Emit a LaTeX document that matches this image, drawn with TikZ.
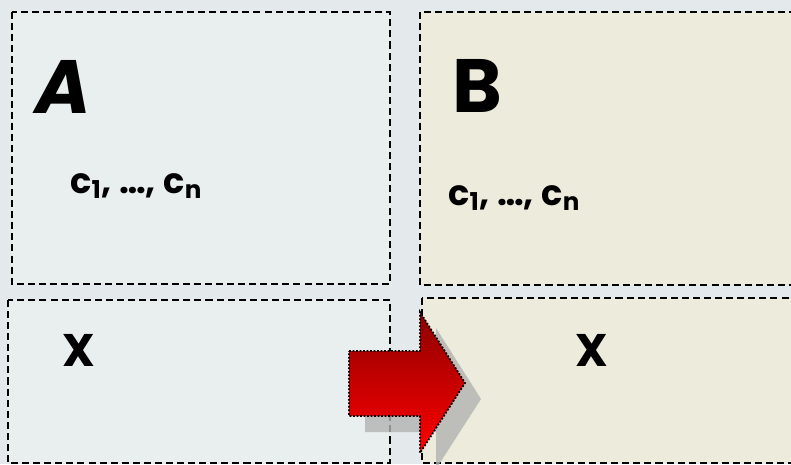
\documentclass[tikz,border=0pt]{standalone}
\usepackage{fontspec}
\setmainfont{Poppins}
\definecolor{paper}{HTML}{E4EAEB}
\definecolor{boxa}{HTML}{E9EEEF}
\definecolor{boxb}{HTML}{ECEBDC}
\tikzset{
  frame/.style={draw=black,dash pattern=on 4pt off 2.3pt,line width=1.1pt},
  big/.style={inner sep=0pt,anchor=base west,font=\fontsize{43}{43}\selectfont\bfseries},
  vals/.style={inner sep=0pt,anchor=base west,font=\fontsize{20}{20}\selectfont\bfseries},
  var/.style={inner sep=0pt,anchor=base west,font=\fontsize{26}{26}\selectfont\bfseries}
}
\begin{document}
\begin{tikzpicture}[x=0.02cm,y=-0.02cm]
  \fill[paper] (0,0) rectangle (791,464);
  \useasboundingbox (0,0) rectangle (791,464);
  % boxes
  \coordinate (A1) at (12,12); \coordinate (A2) at (390,284);
  \coordinate (A3) at (8,300); \coordinate (A4) at (390,463);
  \coordinate (B1) at (420,12); \coordinate (B2) at (800,285);
  \coordinate (B3) at (422,298); \coordinate (B4) at (800,463);
  \filldraw[frame,fill=boxa] (A1) rectangle (A2);
  \filldraw[frame,fill=boxa] (A3) rectangle (A4);
  \filldraw[frame,fill=boxb] (B1) rectangle (B2);
  \filldraw[frame,fill=boxb] (B3) rectangle (B4);
  % texts
  \node[big,font=\fontsize{43}{43}\selectfont\bfseries\itshape] (nameA) at (35,113) {A};
  \node[big] (nameB) at (452,112) {B};
  \node[vals] (valsA) at (70,193) {c\textsubscript{1}, …, c\textsubscript{n}};
  \node[vals] (valsB) at (448,205) {c\textsubscript{1}, …, c\textsubscript{n}};
  \node[var] (varA) at (62,366) {X};
  \node[var] (varB) at (575,366) {X};
  % arrow
  \coordinate (P1) at (349,351); \coordinate (P2) at (420,351);
  \coordinate (P3) at (420,312); \coordinate (P4) at (465,383);
  \coordinate (P5) at (420,453); \coordinate (P6) at (420,416);
  \coordinate (P7) at (349,416);
  \fill[black!30,opacity=.8,transform canvas={shift={(16,16)}}] (P1)--(P2)--(P3)--(P4)--(P5)--(P6)--(P7)--cycle;
  \shade[top color=red!55!black,bottom color=red] (P1)--(P2)--(P3)--(P4)--(P5)--(P6)--(P7)--cycle;
  \draw[densely dotted,line width=1pt] (P1)--(P2)--(P3)--(P4)--(P5)--(P6)--(P7)--cycle;
\end{tikzpicture}
\end{document}
